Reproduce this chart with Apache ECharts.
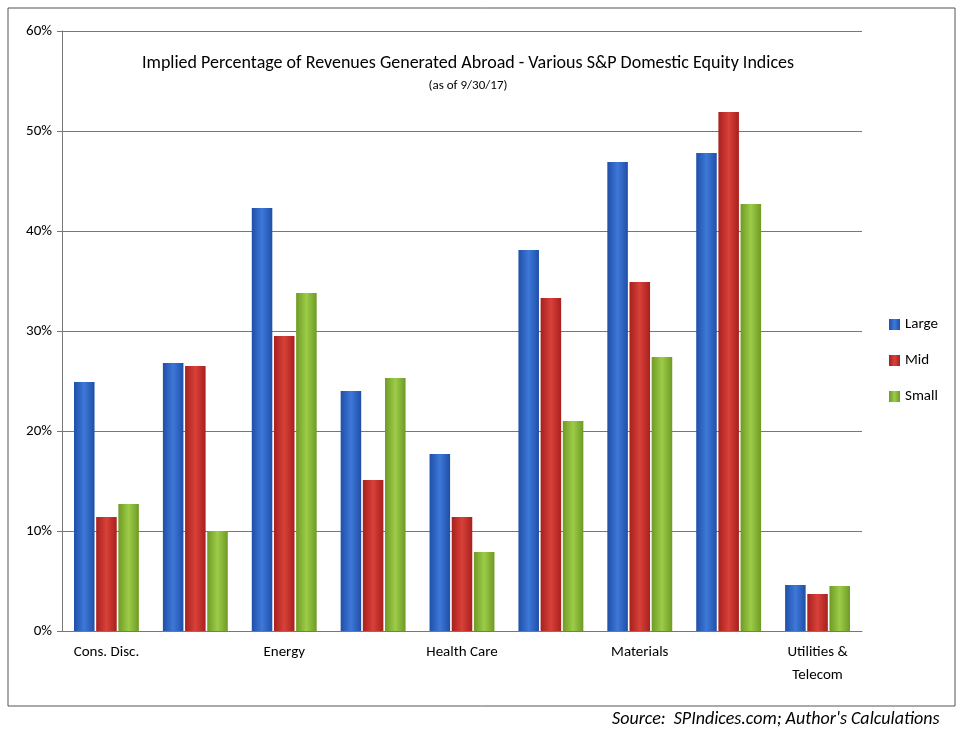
<!DOCTYPE html><html><head><meta charset="utf-8">
<script src="https://cdn.jsdelivr.net/npm/echarts@6/dist/echarts.min.js"></script>
<style>html,body{margin:0;background:#fff}#c{width:964px;height:740px}</style></head><body><div id="c"></div>
<script>
const categories=["Cons. Disc.","Cons.\nStaples","Energy","Financials","Health Care","Industrials","Materials","Info. Tech.","Utilities &\nTelecom"];
const large=[24.9,26.8,42.3,24.0,17.7,38.1,46.9,47.8,4.6];
const mid=[11.4,26.5,29.5,15.1,11.4,33.3,34.9,51.9,3.7];
const small=[12.7,10.0,33.8,25.3,7.9,21.0,27.4,42.7,4.5];
const F='Calibri, "Open Sans", "Liberation Sans", sans-serif';
function grad(a,b){return new echarts.graphic.LinearGradient(0,0,1,0,[{offset:0,color:a},{offset:0.5,color:b},{offset:1,color:a}]);}
const ch=echarts.init(document.getElementById('c'));
const mk=(n,d,c1,c2)=>({name:n,type:'bar',data:d,barGap:'8%',barCategoryGap:'27%',itemStyle:{color:grad(c1,c2)}});
ch.setOption({
 animation:false,
 graphic:[{type:'rect',shape:{x:8,y:8,width:947,height:698},style:{fill:'none',stroke:'#555',lineWidth:1}},
  {type:'text',left:612,top:710,style:{text:'Source:  SPIndices.com; Author\'s Calculations',font:'italic 18px '+F,fill:'#000'}}],
 title:{text:'Implied Percentage of Revenues Generated Abroad - Various S&P Domestic Equity Indices',subtext:'(as of 9/30/17)',left:463,textAlign:'center',top:49,itemGap:7,
  textStyle:{fontFamily:F,fontSize:18,fontWeight:'normal',color:'#000'},subtextStyle:{fontFamily:F,fontSize:13,color:'#000'}},
 legend:{orient:'vertical',left:884,top:312,itemWidth:11,itemHeight:11,itemGap:21,icon:'rect',textStyle:{fontFamily:F,fontSize:15,color:'#000'}},
 grid:{left:62,right:102,top:31,bottom:109},
 xAxis:{type:'category',data:categories,axisLine:{lineStyle:{color:'#777'}},axisTick:{length:6,lineStyle:{color:'#777'}},
  axisLabel:{fontFamily:F,fontSize:15,color:'#000',lineHeight:23,margin:10}},
 yAxis:{type:'value',min:0,max:60,interval:10,axisLabel:{formatter:'{value}%',fontFamily:F,fontSize:15,color:'#000',margin:10},
  axisLine:{show:true,lineStyle:{color:'#777'}},axisTick:{show:true,length:5,lineStyle:{color:'#777'}},splitLine:{lineStyle:{color:'#777'}}},
 series:[mk('Large',large,'#1f4fa8','#3e78d8'),mk('Mid',mid,'#a8201c','#d8413a'),mk('Small',small,'#6f9a25','#9ccc48')]
});
</script></body></html>
